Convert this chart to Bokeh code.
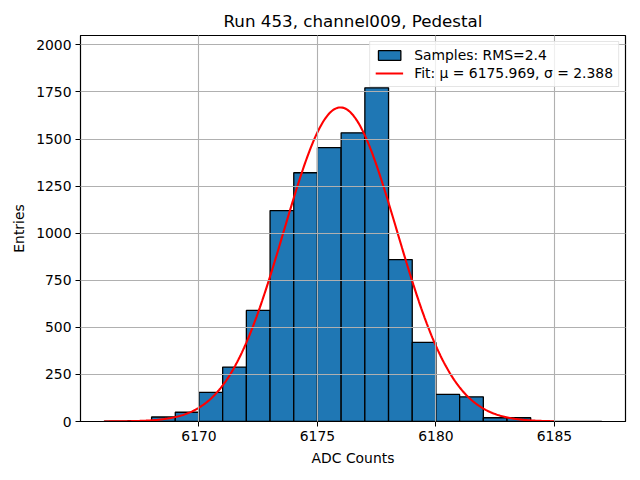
import numpy as np
from bokeh.plotting import figure
from bokeh.models import Range1d, FixedTicker, Legend, LegendItem
from bokeh.embed import file_html
from bokeh.resources import INLINE

# ---- data ----
bin_edges = [6166, 6167, 6168, 6169, 6170, 6171, 6172, 6173, 6174, 6175, 6176,
             6177, 6178, 6179, 6180, 6181, 6182, 6183, 6184, 6185, 6186, 6187]
counts = [2, 5, 24, 49, 155, 289, 590, 1120, 1321, 1454, 1533,
          1772, 860, 420, 144, 131, 20, 20, 0, 0, 0]
fit_mu = 6175.969
fit_sigma = 2.388
fit_amplitude = 1668.0
fit_x_start = 6166
fit_x_end = 6185
x_ticks = [6170, 6175, 6180, 6185]
y_ticks = [0, 250, 500, 750, 1000, 1250, 1500, 1750, 2000]
title_text = "Run 453, channel009, Pedestal"
hist_label = "Samples: RMS=2.4"
fit_label = "Fit: μ = 6175.969, σ = 2.388"

FONT = "DejaVu Sans"

p = figure(width=632, height=472, output_backend="svg", toolbar_location=None,
           x_range=Range1d(6165.0, 6188.0), y_range=Range1d(0, 2050),
           min_border_left=80, min_border_right=7, min_border_top=35, min_border_bottom=51)

p.title.text = title_text
p.title.align = "center"
p.title.text_font = FONT
p.title.text_font_size = "16.7px"
p.title.text_font_style = "normal"
p.title.text_color = "black"

left = bin_edges[:-1]
right = bin_edges[1:]
bars = p.quad(left=left, right=right, top=counts, bottom=0,
              fill_color="#1f77b4", line_color="black", line_width=1.3)

xs = np.linspace(fit_x_start, fit_x_end, 400)
ys = fit_amplitude * np.exp(-0.5 * ((xs - fit_mu) / fit_sigma) ** 2)
fit_line = p.line(xs, ys, line_color="#ff0000", line_width=2.1)

legend = Legend(items=[LegendItem(label=hist_label, renderers=[bars]),
                       LegendItem(label=fit_label, renderers=[fit_line])],
                location="top_right")
legend.label_text_font = FONT
legend.label_text_font_size = "13.9px"
legend.label_text_color = "black"
legend.border_line_color = "#cccccc"
legend.border_line_width = 1
legend.background_fill_alpha = 0.8
legend.margin = 6
legend.padding = 5
legend.spacing = 2
legend.glyph_width = 28
legend.glyph_height = 12
legend.label_standoff = 11
legend.label_height = 16
p.add_layout(legend)

p.xaxis.ticker = FixedTicker(ticks=x_ticks)
p.yaxis.ticker = FixedTicker(ticks=y_ticks)
p.xaxis.axis_label = "ADC Counts"
p.yaxis.axis_label = "Entries"
for ax in (p.xaxis, p.yaxis):
    ax.axis_label_text_font = FONT
    ax.axis_label_text_font_size = "13.9px"
    ax.axis_label_text_font_style = "normal"
    ax.axis_label_text_color = "black"
    ax.major_label_text_font = FONT
    ax.major_label_text_font_size = "13.9px"
    ax.major_label_text_color = "black"
    ax.major_tick_out = 5
    ax.major_tick_in = 0
    ax.minor_tick_line_color = None
    ax.axis_line_color = "black"
    ax.major_tick_line_color = "black"
    ax.axis_label_standoff = 6
    ax.major_label_standoff = 4
p.xaxis.major_label_overrides = {t: str(t) for t in x_ticks}
p.yaxis.major_label_overrides = {t: str(t) for t in y_ticks}

for g in (p.xgrid, p.ygrid):
    g.grid_line_color = "#b0b0b0"
    g.grid_line_width = 1.1
    g.level = "guide"
p.xgrid.ticker = FixedTicker(ticks=x_ticks)
p.ygrid.ticker = FixedTicker(ticks=y_ticks)

p.outline_line_color = "black"
p.outline_line_width = 1.2
p.outline_line_alpha = 1.0
p.background_fill_color = "white"
p.border_fill_color = "white"

open("out.html", "w").write(file_html(p, INLINE))
